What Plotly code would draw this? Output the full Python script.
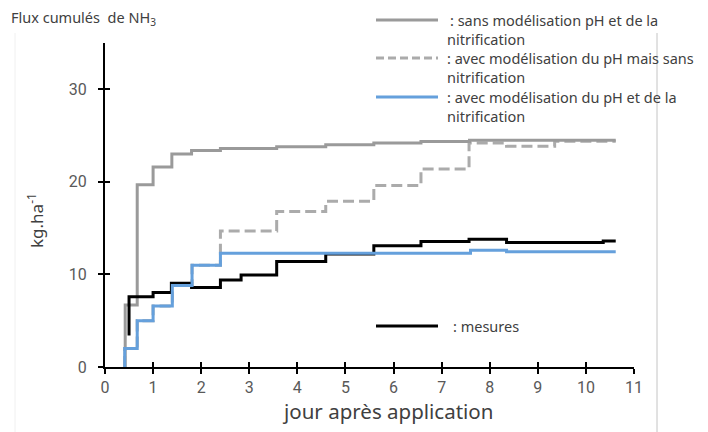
import plotly.graph_objects as go

# Cumulative NH3 fluxes (kg/ha) over days after application
days_sans_ph = [0.42, 0.42, 0.67, 1.0, 1.39, 1.8, 2.4, 3.57, 4.59, 5.59, 6.57, 7.58, 10.62]
flux_sans_ph = [0.0, 6.7, 19.7, 21.6, 23.0, 23.4, 23.6, 23.8, 24.0, 24.2, 24.35, 24.5, 24.5]

days_ph_sans_nitrif = [0.41, 0.41, 0.67, 1.0, 1.4, 1.81, 2.4, 3.57, 4.59, 5.59, 6.57, 7.57, 8.35, 9.35, 10.62]
flux_ph_sans_nitrif = [0.0, 2.0, 5.0, 6.6, 8.8, 11.0, 14.7, 16.8, 17.9, 19.6, 21.4, 24.2, 23.85, 24.4, 24.4]

days_ph_nitrif = [0.41, 0.41, 0.67, 1.0, 1.4, 1.81, 2.4, 7.6, 8.35, 10.62]
flux_ph_nitrif = [0.0, 2.0, 5.0, 6.6, 8.8, 11.0, 12.3, 12.6, 12.45, 12.45]

days_mesures = [0.5, 0.5, 1.0, 1.38, 1.8, 2.4, 2.83, 3.57, 4.59, 5.59, 6.57, 7.57, 8.35, 10.36, 10.62]
flux_mesures = [3.4, 7.6, 8.05, 9.05, 8.6, 9.4, 9.95, 11.4, 12.2, 13.1, 13.55, 13.8, 13.45, 13.6, 13.6]

x_ticks = list(range(0, 12))
y_ticks = [0, 10, 20, 30]

legend_labels = [
    [": sans modélisation pH et de la", "nitrification"],
    [": avec modélisation du pH mais sans", "nitrification"],
    [": avec modélisation du pH et de la", "nitrification"],
    [": mesures"],
]

GRAY = "#9a9a9a"
LIGHT_GRAY = "#ababab"
BLUE = "#65a0dc"
BLACK = "#000000"
TEXT = "#404040"
TICK_TEXT = "#595959"
LABEL_FONT = "Noto Sans, Lato, sans-serif"
TICK_FONT = "Liberation Sans Narrow, Roboto, sans-serif"

W, H = 708, 432
ML, MR, MT, MB = 105, 74, 43, 65
PW, PH = W - ML - MR, H - MT - MB


def px(x):
    return (x - ML) / PW


def py(y):
    return (H - y - MB) / PH


fig = go.Figure()

fig.add_trace(go.Scatter(x=days_ph_sans_nitrif, y=flux_ph_sans_nitrif, mode="lines",
                         line=dict(color=LIGHT_GRAY, width=3, dash="11px,5px", shape="hv")))
fig.add_trace(go.Scatter(x=days_sans_ph, y=flux_sans_ph, mode="lines",
                         line=dict(color=GRAY, width=3, shape="hv")))
fig.add_trace(go.Scatter(x=days_mesures, y=flux_mesures, mode="lines",
                         line=dict(color=BLACK, width=3, shape="hv")))
fig.add_trace(go.Scatter(x=days_ph_nitrif, y=flux_ph_nitrif, mode="lines",
                         line=dict(color=BLUE, width=3, shape="hv")))
# invisible trace to host the inner half of the crossing ticks
fig.add_trace(go.Scatter(x=[0], y=[0], xaxis="x2", yaxis="y2", mode="markers",
                         marker=dict(opacity=0), hoverinfo="skip"))

axis_common = dict(showgrid=False, zeroline=False)
fig.update_layout(
    width=W, height=H,
    margin=dict(l=ML, r=MR, t=MT, b=MB),
    plot_bgcolor="white", paper_bgcolor="white",
    showlegend=False,
    xaxis=dict(range=[0, 11], tickvals=x_ticks, ticks="outside", ticklen=5, tickwidth=2,
               tickcolor=BLACK, showline=True, linecolor=BLACK, linewidth=2,
               tickfont=dict(family=TICK_FONT, size=16, color=TICK_TEXT),
               ticklabelstandoff=0, **axis_common),
    yaxis=dict(range=[0, 35], tickvals=y_ticks, ticks="outside", ticklen=5, tickwidth=2,
               tickcolor=BLACK, showline=True, linecolor=BLACK, linewidth=2,
               tickfont=dict(family=TICK_FONT, size=16, color=TICK_TEXT),
               ticklabelstandoff=8, **axis_common),
    xaxis2=dict(range=[0, 11], tickvals=x_ticks, ticks="inside", ticklen=5, tickwidth=2,
                tickcolor=BLACK, showticklabels=False, showline=False,
                overlaying="x", anchor="y", **axis_common),
    yaxis2=dict(range=[0, 35], tickvals=y_ticks, ticks="inside", ticklen=5, tickwidth=2,
                tickcolor=BLACK, showticklabels=False, showline=False,
                overlaying="y", anchor="x", **axis_common),
)

# chart-area border lines
fig.add_shape(type="line", xref="paper", yref="paper", x0=px(657), x1=px(657),
              y0=py(33), y1=py(H), line=dict(color="#c4c4c4", width=1))
fig.add_shape(type="line", xref="paper", yref="paper", x0=px(15), x1=px(15),
              y0=py(33), y1=py(H), line=dict(color="#f0f0f0", width=1))

# title and axis titles
fig.add_annotation(text="Flux cumulés  de NH<sub>3</sub>", xref="paper", yref="paper",
                   x=px(9), y=py(18), xanchor="left", yanchor="middle",
                   showarrow=False, font=dict(family=LABEL_FONT, size=14.5, color=TEXT))
fig.add_annotation(text="kg.ha<sup>-1</sup>", xref="paper", yref="paper",
                   x=px(35), y=py(221), textangle=-90,
                   xanchor="center", yanchor="middle", showarrow=False,
                   font=dict(family=LABEL_FONT, size=17, color=TEXT))
fig.add_annotation(text="jour après application", xref="paper", yref="paper",
                   x=px(387), y=py(411), xanchor="center", yanchor="middle",
                   showarrow=False, font=dict(family=LABEL_FONT, size=20.5, color=TEXT))

# hand-drawn legend
legend_styles = [
    dict(color=GRAY, width=3),
    dict(color=LIGHT_GRAY, width=3, dash="8px,4px"),
    dict(color=BLUE, width=3),
    dict(color=BLACK, width=3),
]
legend_rows = [(20, 39), (58, 77), (97, 116), (326,)]
legend_text_x = [449, 446, 446, 452]
for lines, style, rows, tx in zip(legend_labels, legend_styles, legend_rows, legend_text_x):
    fig.add_shape(type="line", xref="paper", yref="paper",
                  x0=px(376), x1=px(438), y0=py(rows[0]), y1=py(rows[0]), line=style)
    for i, (line_text, row) in enumerate(zip(lines, rows)):
        fig.add_annotation(text=line_text, xref="paper", yref="paper",
                           x=px(tx if i == 0 else 446), y=py(row), xanchor="left", yanchor="middle",
                           align="left", showarrow=False, borderpad=0,
                           font=dict(family=LABEL_FONT, size=14.5, color=TEXT))

fig.write_html("out.html")
